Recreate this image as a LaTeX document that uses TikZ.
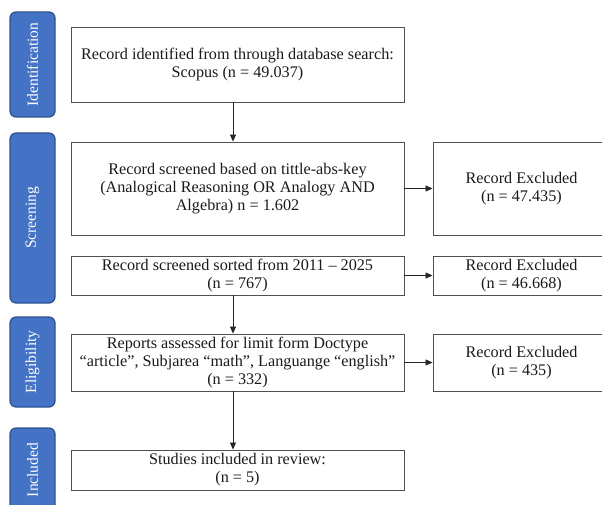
\documentclass[tikz,border=0pt]{standalone}
\usepackage{fontspec}
\setmainfont{Liberation Serif}
\usetikzlibrary{arrows.meta}
\definecolor{stagefill}{HTML}{4472C4}
\definecolor{stageline}{HTML}{2F528F}
\definecolor{boxline}{HTML}{505050}
\definecolor{txt}{HTML}{1A1A1A}
\begin{document}
\begin{tikzpicture}[x=1pt,y=-1pt,
  box/.style={draw=boxline, line width=0.9pt, align=center, inner sep=0pt,
    font=\fontsize{16.2}{18}\selectfont, text=txt},
  stage/.style={draw=stageline, fill=stagefill, rounded corners=6pt, line width=1.2pt, inner sep=0pt},
  stagetext/.style={text=white, font=\fontsize{15.5}{18}\selectfont, inner sep=0pt},
  arr/.style={-{Triangle[length=7pt,width=6pt]}, line width=0.8pt, draw=black!85}]
\useasboundingbox (0,0) rectangle (602,505);
\clip (0,0) rectangle (602,505);
% stage labels
\node[stage, minimum width=45, minimum height=105] (s1) at (32.5,64.5) {};
\node[stagetext, rotate=90] (s1t) at (s1) {Identification};
\node[stage, minimum width=45, minimum height=170] (s2) at (32.5,218) {};
\node[stagetext, rotate=90] (s2t) at (s2) {Screening};
\node[stage, minimum width=45, minimum height=90] (s3) at (32.5,362) {};
\node[stagetext, rotate=90] (s3t) at (s3) {Eligibility};
\node[stage, minimum width=45, minimum height=84] (s4) at (32.5,470) {};
\node[stagetext, rotate=90] (s4t) at (s4) {Included};
% main boxes
\node[box, minimum width=333, minimum height=75] (b1) at (237.5,64.5)
  {Record identified from through database search:\\Scopus (n = 49.037)};
\node[box, minimum width=333, minimum height=93] (b2) at (237.5,188.5)
  {Record screened based on tittle-abs-key\\(Analogical Reasoning OR Analogy AND\\Algebra) n = 1.602};
\node[box, minimum width=333, minimum height=39] (b3) at (237.5,275.5)
  {Record screened sorted from 2011 – 2025\\(n = 767)};
\node[box, minimum width=333, minimum height=57] (b4) at (237.5,362.5)
  {Reports assessed for limit form Doctype\\“article”, Subjarea “math”, Languange “english”\\(n = 332)};
\node[box, minimum width=333, minimum height=40] (b5) at (237.5,470)
  {Studies included in review:\\(n = 5)};
% excluded boxes
\node[box, minimum width=177, minimum height=93] (r1) at (521.5,188.5)
  {Record Excluded\\(n = 47.435)};
\node[box, minimum width=177, minimum height=39] (r2) at (521.5,275.5)
  {Record Excluded\\(n = 46.668)};
\node[box, minimum width=177, minimum height=57] (r3) at (521.5,362.5)
  {Record Excluded\\(n = 435)};
% connectors
\draw[arr] ([xshift=-4.5pt]b1.south) -- ([xshift=-4.5pt]b2.north);
\draw[arr] ([xshift=-4.5pt]b3.south) -- ([xshift=-4.5pt]b4.north);
\draw[arr] ([xshift=-4.5pt]b4.south) -- ([xshift=-4.5pt]b5.north);
\draw[arr] (b2.east) -- (r1.west);
\draw[arr] (b3.east) -- (r2.west);
\draw[arr] (b4.east) -- (r3.west);
\end{tikzpicture}
\end{document}
